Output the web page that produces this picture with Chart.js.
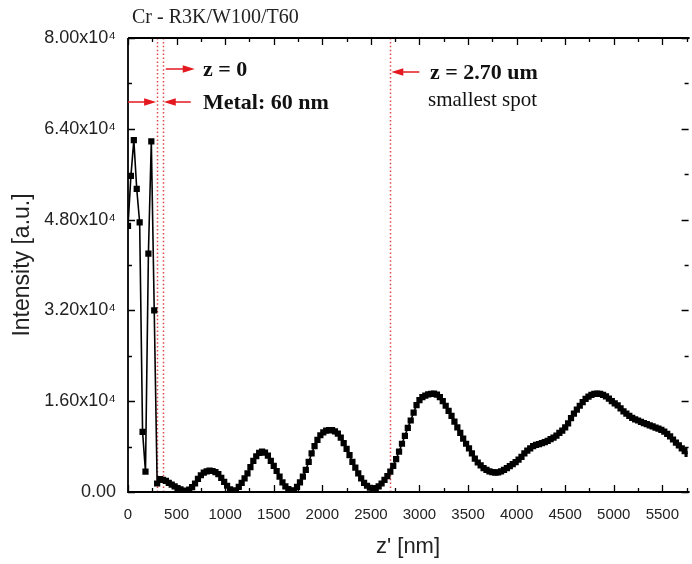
<!DOCTYPE html>
<html>
<head>
<meta charset="utf-8">
<script src="https://cdn.jsdelivr.net/npm/chart.js@4.4.1/dist/chart.umd.min.js"></script>
<style>
    html, body { margin: 0; padding: 0; background: #fff; }
    #wrap { width: 692px; height: 564px; position: relative; }
</style>
</head>
<body>
<div id="wrap"><canvas id="chart"></canvas></div>
<script>
// z' positions [nm] of the measured points
var arrZ = [
    0, 30, 60, 90, 120, 150, 180, 210, 240, 270, 300,
    330, 360, 390, 420, 450, 480, 510, 540, 570, 600, 630, 660, 690, 720, 750, 780, 810, 840, 870, 900,
    930, 960, 990, 1020, 1050, 1080, 1110, 1140, 1170, 1200, 1230, 1260, 1290, 1320, 1350, 1380, 1410, 1440, 1470, 1500,
    1530, 1560, 1590, 1620, 1650, 1680, 1710, 1740, 1770, 1800, 1830, 1860, 1890, 1920, 1950, 1980, 2010, 2040, 2070, 2100,
    2130, 2160, 2190, 2220, 2250, 2280, 2310, 2340, 2370, 2400, 2430, 2460, 2490, 2520, 2550, 2580, 2610, 2640, 2670, 2700,
    2730, 2760, 2790, 2820, 2850, 2880, 2910, 2940, 2970, 3000, 3030, 3060, 3090, 3120, 3150, 3180, 3210, 3240, 3270, 3300,
    3330, 3360, 3390, 3420, 3450, 3480, 3510, 3540, 3570, 3600, 3630, 3660, 3690, 3720, 3750, 3780, 3810, 3840, 3870, 3900,
    3930, 3960, 3990, 4020, 4050, 4080, 4110, 4140, 4170, 4200, 4230, 4260, 4290, 4320, 4350, 4380, 4410, 4440, 4470, 4500,
    4530, 4560, 4590, 4620, 4650, 4680, 4710, 4740, 4770, 4800, 4830, 4860, 4890, 4920, 4950, 4980, 5010, 5040, 5070, 5100,
    5130, 5160, 5190, 5220, 5250, 5280, 5310, 5340, 5370, 5400, 5430, 5460, 5490, 5520, 5550, 5580, 5610, 5640, 5670, 5700,
    5730, 5760
];
// intensity [a.u.]
var arrIntensity = [
    46900, 55700, 62000, 53400, 47500, 10600, 3600, 42000, 61800, 32000, 1500,
    2250, 2150, 1950, 1600, 1300, 1000, 700, 450, 250, 150, 400, 850, 1500, 2300, 2950, 3400, 3650, 3750, 3700, 3500,
    3150, 2500, 1800, 1100, 450, 100, 300, 900, 1600, 2400, 3300, 4400, 5500, 6300, 6900, 7100, 6950, 6400, 5500, 4600,
    3700, 2700, 1700, 1000, 500, 200, 300, 900, 1700, 2700, 3900, 5300, 6800, 8100, 9200, 10000, 10500, 10800, 10900, 10900,
    10700, 10300, 9600, 8600, 7600, 6500, 5300, 4300, 3300, 2400, 1600, 1100, 750, 600, 700, 1000, 1500, 2150, 2800, 3600,
    4600, 5800, 7100, 8500, 9900, 11300, 12600, 14000, 15300, 16200, 16700, 17000, 17200, 17300, 17350, 17150, 16700, 16000, 15200, 14300,
    13400, 12400, 11400, 10400, 9400, 8500, 7700, 6800, 5900, 5200, 4700, 4200, 3900, 3650, 3500, 3400, 3450, 3650, 3900, 4200,
    4550, 4900, 5250, 5700, 6200, 6800, 7300, 7700, 8100, 8300, 8450, 8600, 8800, 9000, 9300, 9600, 9950, 10400, 10800, 11400,
    12100, 13000, 13800, 14500, 15200, 15850, 16400, 16800, 17100, 17300, 17350, 17300, 17100, 16850, 16450, 16000, 15600, 15250, 14750, 14200,
    13800, 13400, 13050, 12800, 12600, 12350, 12150, 11950, 11750, 11550, 11350, 11150, 10950, 10650, 10250, 9800, 9250, 8700, 8200, 7700,
    7200, 6700
];
// axis ticks
var arrXTicks = [0, 500, 1000, 1500, 2000, 2500, 3000, 3500, 4000, 4500, 5000, 5500];
var arrYTicks = [0, 16000, 32000, 48000, 64000, 80000];
// vertical marker lines [nm]: metal layer start, z = 0, smallest spot
var arrMarkers = [300, 358, 2700];

var strRed = '#e3191f';
var strSerif = '"Liberation Serif", "Times New Roman", serif';
var strSans = '"Liberation Sans", Arial, sans-serif';

function arrow(ctx, x1, x2, y) {
    // line from x1 to x2, filled head at x2
    var dir = x2 > x1 ? 1 : -1;
    ctx.save();
    ctx.strokeStyle = strRed;
    ctx.fillStyle = strRed;
    ctx.lineWidth = 1.5;
    ctx.beginPath();
    ctx.moveTo(x1, y);
    ctx.lineTo(x2 - dir * 8, y);
    ctx.stroke();
    ctx.beginPath();
    ctx.moveTo(x2, y);
    ctx.lineTo(x2 - dir * 12, y - 3.8);
    ctx.lineTo(x2 - dir * 12, y + 3.8);
    ctx.closePath();
    ctx.fill();
    ctx.restore();
}

var objFramePlugin = {
    id: 'frame',
    beforeDatasetsDraw: function (chart) {
        var ctx = chart.ctx;
        var area = chart.chartArea;
        var xs = chart.scales.x;
        ctx.save();
        ctx.strokeStyle = '#e04848';
        ctx.lineWidth = 1.5;
        ctx.setLineDash([1.5, 2.4]);
        arrMarkers.forEach(function (z) {
            var px = Math.round(xs.getPixelForValue(z)) + 0.5;
            ctx.beginPath();
            ctx.moveTo(px, area.top);
            ctx.lineTo(px, area.bottom);
            ctx.stroke();
        });
        ctx.restore();
    },
    afterDraw: function (chart) {
        var ctx = chart.ctx;
        var area = chart.chartArea;
        var xs = chart.scales.x;
        var ys = chart.scales.y;
        var v, px, len;

        ctx.save();
        ctx.strokeStyle = '#000';
        ctx.lineWidth = 1.8;
        ctx.beginPath();
        ctx.moveTo(area.left, area.top);
        ctx.lineTo(area.right + 2, area.top);
        ctx.moveTo(area.left, area.top);
        ctx.lineTo(area.left, area.bottom);
        ctx.lineTo(area.right + 2, area.bottom);
        ctx.stroke();

        // inward ticks, major + minor
        ctx.lineWidth = 1.3;
        ctx.beginPath();
        for (v = 0; v <= xs.max; v += 250) {
            px = Math.round(xs.getPixelForValue(v)) + 0.5;
            len = v % 500 === 0 ? 7 : 4;
            ctx.moveTo(px, area.bottom);
            ctx.lineTo(px, area.bottom - len);
            ctx.moveTo(px, area.top);
            ctx.lineTo(px, area.top + len);
        }
        for (v = 0; v <= ys.max; v += 8000) {
            px = Math.round(ys.getPixelForValue(v)) + 0.5;
            len = v % 16000 === 0 ? 7 : 4;
            ctx.moveTo(area.left, px);
            ctx.lineTo(area.left + len, px);
            ctx.moveTo(area.right + 1, px);
            ctx.lineTo(area.right + 1 - len, px);
        }
        ctx.stroke();

        // titles
        ctx.fillStyle = '#222';
        ctx.textBaseline = 'middle';
        ctx.textAlign = 'left';
        ctx.font = '20px ' + strSerif;
        ctx.fillText('Cr - R3K/W100/T60', 132, 18);

        ctx.font = '22px ' + strSans;
        ctx.textAlign = 'center';
        ctx.fillText("z' [nm]", 408, 547);
        ctx.font = '23px ' + strSans;
        ctx.save();
        ctx.translate(23, 265);
        ctx.rotate(-Math.PI / 2);
        ctx.fillText('Intensity [a.u.]', 0, 0);
        ctx.restore();

        // annotations
        var x1 = xs.getPixelForValue(arrMarkers[0]);
        var x2 = xs.getPixelForValue(arrMarkers[1]);
        var x3 = xs.getPixelForValue(arrMarkers[2]);
        arrow(ctx, x2 + 3, x2 + 32, 69);
        arrow(ctx, area.left, x1 - 1, 102);
        arrow(ctx, x2 + 28, x2 + 1, 102);
        arrow(ctx, x3 + 29, x3 + 1, 72);

        ctx.fillStyle = '#111';
        ctx.textAlign = 'left';
        ctx.font = 'bold 22px ' + strSerif;
        ctx.fillText('z = 0', 203, 70);
        ctx.fillText('Metal: 60 nm', 203, 103);
        ctx.fillText('z = 2.70 um', 430, 73);
        ctx.font = '21px ' + strSerif;
        ctx.fillText('smallest spot', 428, 100);
        ctx.restore();
    }
};

var ctx = document.getElementById('chart').getContext('2d');
var objChart = new Chart(ctx, {
    type: 'line',
    data: {
        datasets: [{
            data: arrZ.map(function (z, i) { return { x: z, y: arrIntensity[i] }; }),
            borderColor: '#000',
            borderWidth: 1.6,
            backgroundColor: '#000',
            pointStyle: 'rect',
            pointRadius: 4.4,
            pointBorderWidth: 0,
            pointBackgroundColor: '#000',
            tension: 0
        }]
    },
    options: {
        responsive: true,
        maintainAspectRatio: false,
        animation: false,
        layout: {
            padding: { top: 38, right: 0, left: 0, bottom: 0 }
        },
        plugins: {
            legend: { display: false },
            tooltip: { enabled: false }
        },
        scales: {
            x: {
                type: 'linear',
                min: 0,
                max: 5760,
                grid: { display: false },
                border: { display: false },
                afterBuildTicks: function (scale) {
                    scale.ticks = arrXTicks.map(function (v) { return { value: v }; });
                },
                afterFit: function (scale) {
                    scale.height = 72;
                },
                ticks: {
                    autoSkip: false,
                    maxRotation: 0,
                    padding: 6,
                    color: '#222',
                    font: { family: strSans, size: 15 },
                    callback: function (value) {
                        return String(value);
                    }
                }
            },
            y: {
                min: 0,
                max: 80000,
                grid: { display: false },
                border: { display: false },
                afterBuildTicks: function (scale) {
                    scale.ticks = arrYTicks.map(function (v) { return { value: v }; });
                },
                afterFit: function (scale) {
                    scale.width = 128;
                },
                ticks: {
                    padding: 4,
                    color: '#222',
                    font: { family: strSans, size: 18 },
                    callback: function (value) {
                        if (value === 0) {
                            return '0.00';
                        }
                        return (value / 10000).toFixed(2) + 'x10\u2074';
                    }
                }
            }
        }
    },
    plugins: [objFramePlugin]
});
</script>
</body>
</html>
